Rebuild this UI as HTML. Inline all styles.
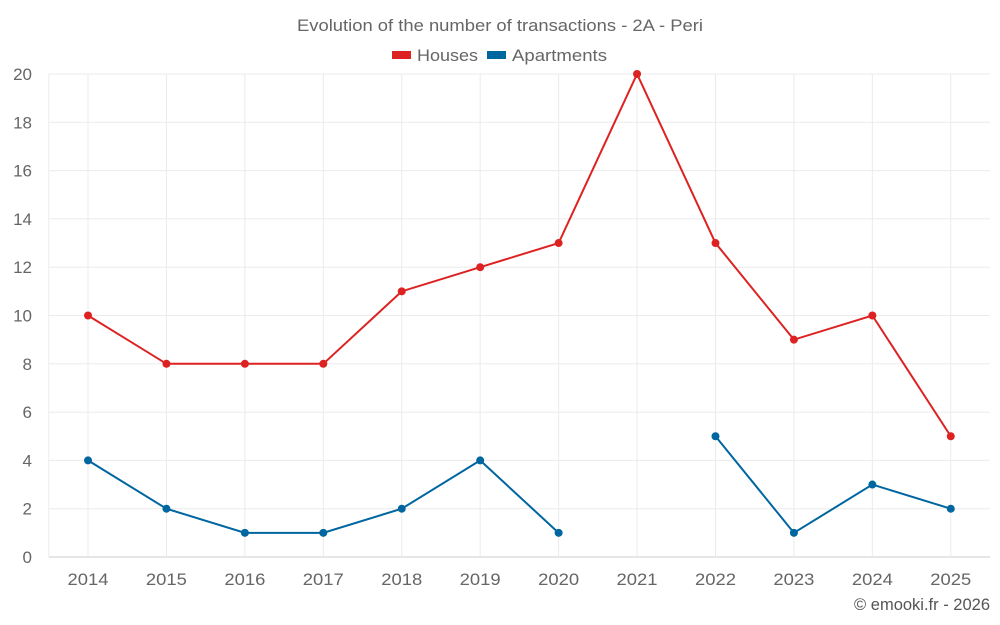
<!DOCTYPE html>
<html><head><meta charset="utf-8"><style>
body{margin:0;background:#fff;font-family:"Liberation Sans",sans-serif;}
svg{display:block}
</style></head><body>
<svg id="c" width="1000" height="625">
<text x="500" y="31" text-anchor="middle" font-size="16.5" fill="#666" textLength="406" lengthAdjust="spacingAndGlyphs">Evolution of the number of transactions - 2A - Peri</text>
<g>
<g><rect x="392" y="51" width="19" height="8" fill="#dd2222"/><text x="417" y="61" font-size="17" fill="#666" textLength="61" lengthAdjust="spacingAndGlyphs">Houses</text></g>
<g><rect x="487" y="51" width="19" height="8" fill="#0066a0"/><text x="512" y="61" font-size="17" fill="#666" textLength="95" lengthAdjust="spacingAndGlyphs">Apartments</text></g>
</g>
<g id="grid"></g><g id="series"></g>
<text x="990" y="610" text-anchor="end" font-size="16.5" fill="#555">© emooki.fr - 2026</text>
</svg>
<script>
const categories=["2014","2015","2016","2017","2018","2019","2020","2021","2022","2023","2024","2025"];
const houses=[10,8,8,8,11,12,13,20,13,9,10,5];
const apartments=[4,2,1,1,2,4,1,null,5,1,3,2];
const yTicks=[0,2,4,6,8,10,12,14,16,18,20];
const NS="http://www.w3.org/2000/svg";
const L=48.8,R=990,T=74,B=557,yMax=20;
const bw=(R-L)/categories.length;
const x=i=>L+bw*(i+0.5);
const y=v=>B-(v/yMax)*(B-T);
function mk(t,a,p){const e=document.createElementNS(NS,t);for(const k in a)e.setAttribute(k,a[k]);p.appendChild(e);return e;}
const g=document.getElementById('grid'),s=document.getElementById('series');
yTicks.forEach(v=>{
 const l=mk('line',{x1:L,x2:R,y1:y(v),y2:y(v),stroke:v===0?'#ccc':'#ebebeb','stroke-width':1},g);
 
 
 const t=mk('text',{x:32,y:y(v)+6,'text-anchor':'end','font-size':17,fill:'#666'},g);t.textContent=v;
 
 
});
mk('line',{x1:L,x2:L,y1:T,y2:B,stroke:'#ebebeb'},g);
categories.forEach((c,i)=>{
 const l=mk('line',{x1:x(i),x2:x(i),y1:T,y2:B,stroke:'#ebebeb'},g);
 
 
 const t=mk('text',{x:x(i),y:585,'text-anchor':'middle','font-size':17,fill:'#666',textLength:41,lengthAdjust:'spacingAndGlyphs'},g);t.textContent=c;
 
 
});
function draw(data,color,name){
 let d='',pen=false;
 data.forEach((v,i)=>{if(v===null){pen=false;return;}d+=(pen?'L':'M')+x(i)+' '+y(v)+' ';pen=true;});
 const p=mk('path',{d:d,fill:'none',stroke:color,'stroke-width':2},s);
 
 
 data.forEach((v,i)=>{if(v===null)return;
  const c=mk('circle',{cx:x(i),cy:y(v),r:4,fill:color},s);
  
  
 });
}
draw(houses,'#dd2222','houses');
draw(apartments,'#0066a0','apartments');
</script>
</body></html>
